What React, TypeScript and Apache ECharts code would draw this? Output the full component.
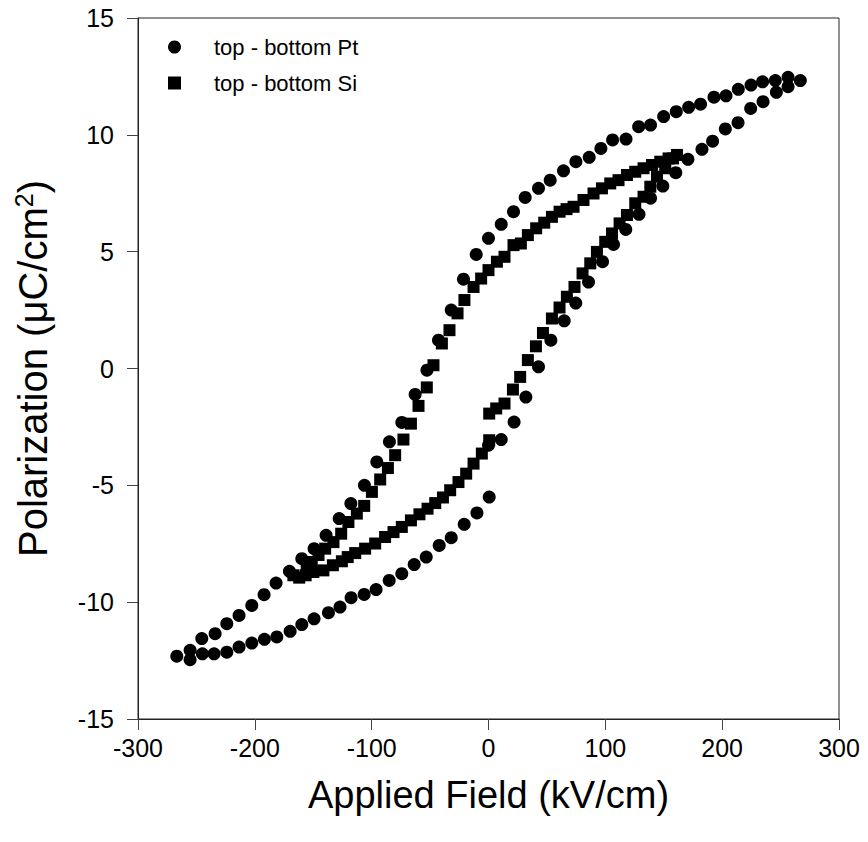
import React, { useEffect, useRef } from "react";
import * as echarts from "echarts";

// Pt electrodes (circles)
const ptField = [
  0.6, -9.9, -20.8, -31.9, -42.2, -53.3, -63.6, -74.2, -85.0, -96.2,
  -106.4, -117.6, -127.1, -137.0, -149.3, -159.8, -169.8, -181.2, -191.8, -202.6,
  -213.5, -224.0, -234.9, -244.9, -255.4, -266.8,
  -255.4, -245.4, -234.0, -224.0, -213.5, -202.6, -192.1, -181.8, -170.4, -159.8,
  -149.3, -139.0, -127.8, -117.8, -106.2, -95.6, -84.8, -74.2, -62.8, -52.7,
  -42.8, -31.9, -21.4, -10.5, 0, 10.9, 21.4, 31.4, 42.8, 52.8,
  64.2, 74.8, 86.2, 96.2, 106.2, 117.7, 128.5, 138.7, 149.9, 160.7,
  171.3, 181.5, 193.0, 203.3, 213.8, 224.7, 234.6, 245.5, 256.4, 266.9,
  256.4, 246.4, 235.0, 224.4, 213.6, 202.7, 191.8, 182.7, 170.7, 160.3,
  149.2, 138.7, 128.8, 117.5, 107.0, 97.6, 85.6, 74.7, 64.8, 53.4,
  42.8, 32.0, 21.9, 10.9, 0,
];
const ptPolarization = [
  -5.5, -6.18, -6.67, -7.24, -7.57, -8.07, -8.39, -8.78, -9.07, -9.46,
  -9.67, -9.81, -10.21, -10.45, -10.71, -10.96, -11.25, -11.49, -11.59, -11.75,
  -11.92, -12.14, -12.21, -12.21, -12.46, -12.31,
  -12.06, -11.56, -11.35, -10.92, -10.57, -10.14, -9.68, -9.18, -8.68, -8.14,
  -7.71, -7.14, -6.42, -5.78, -5.0, -4.0, -3.14, -2.31, -1.11, -0.07,
  1.21, 2.5, 3.82, 4.88, 5.57, 6.17, 6.71, 7.32, 7.71, 8.06,
  8.46, 8.85, 9.04, 9.42, 9.78, 9.82, 10.35, 10.42, 10.78, 10.99,
  11.18, 11.31, 11.61, 11.67, 11.95, 12.13, 12.27, 12.32, 12.46, 12.32,
  12.06, 11.82, 11.42, 11.13, 10.52, 10.25, 9.73, 9.38, 8.95, 8.38,
  7.81, 7.29, 6.6, 5.95, 5.31, 4.57, 3.7, 2.8, 2.04, 1.21,
  0.07, -1.22, -2.29, -3.04, -3.28,
];

// Si electrodes (squares)
const siField = [
  -162, -155.6, -151.3, -145.5, -139.8, -132.7, -126.1, -119.9, -112.7, -106.4,
  -99.8, -92.7, -86.1, -79.9, -72.8, -66.4, -59.9, -52.8, -47.1, -39.9,
  -33.4, -26.5, -20.6, -12.8, -6.3, 0, 7.2, 13.7, 21.4, 27.7,
  33.7, 40.8, 47.7, 54.3, 60.8, 66.8, 72.8, 81.3, 89.9, 97.1,
  104.2, 111.3, 118.5, 125.6, 132.7, 139.9, 147.0, 154.1, 161.3,
  157.9, 151.3, 144.2, 138.5, 132.7, 125.6, 118.5, 112.2, 105.7, 99.9,
  92.8, 87.1, 80.5, 73.6, 67.1, 60.8, 54.3, 46.6, 40.6, 33.7,
  27.1, 20.9, 13.7, 6.6, 0.6,
  0.6, -5.7, -12.8, -19.1, -25.7, -32.8, -39.0, -45.6, -52.2, -59.1,
  -66.4, -74.2, -81.3, -88.5, -97.0, -105.6, -114.1, -120.5, -125.5, -133.2,
  -141.3, -149.9, -156.5, -167,
];
const siPolarization = [
  -8.95, -8.57, -8.28, -7.98, -7.71, -7.43, -7.07, -6.57, -6.21, -5.88,
  -5.28, -4.75, -4.26, -3.71, -3.04, -2.36, -1.6, -0.81, 0.14, 1.07,
  1.64, 2.36, 2.93, 3.49, 3.85, 4.21, 4.57, 4.78, 5.28, 5.35,
  5.71, 6.0, 6.24, 6.49, 6.71, 6.82, 6.92, 7.21, 7.49, 7.71,
  7.92, 8.06, 8.28, 8.42, 8.57, 8.71, 8.85, 8.99, 9.14,
  8.99, 8.57, 8.21, 7.78, 7.35, 7.07, 6.57, 6.21, 5.78, 5.42,
  4.99, 4.5, 4.07, 3.49, 3.07, 2.61, 2.14, 1.52, 0.95, 0.36,
  -0.36, -0.9, -1.5, -1.71, -1.93,
  -3.07, -3.64, -4.07, -4.5, -4.86, -5.21, -5.52, -5.76, -6.0, -6.24,
  -6.5, -6.78, -7.0, -7.21, -7.49, -7.71, -7.9, -8.07, -8.25, -8.42,
  -8.64, -8.71, -8.85, -8.85,
];

const seriesNames = ["top - bottom Pt", "top - bottom Si"];
const xTitle = "Applied Field (kV/cm)";
const yTitle = "Polarization (μC/cm{sup|2})";

const FONT = "'Liberation Sans', Arial, sans-serif";

export default function App() {
  const ref = useRef<HTMLDivElement>(null);
  useEffect(() => {
    if (!ref.current) return;
    const chart = echarts.init(ref.current, undefined, { renderer: "svg" });
    const ptData = ptField.map((x, i) => [x, ptPolarization[i]]);
    const siData = siField.map((x, i) => [x, siPolarization[i]]);
    chart.setOption({
      animation: false,
      backgroundColor: "#fff",
      textStyle: { fontFamily: FONT },
      grid: {
        left: 138,
        right: 29,
        top: 18,
        bottom: 123,
        show: true,
        borderColor: "#222",
        borderWidth: 1,
        backgroundColor: "transparent",
      },
      legend: {
        left: 163,
        top: 31,
        orient: "vertical",
        itemWidth: 13,
        itemHeight: 13,
        itemGap: 14,
        itemStyle: { opacity: 1 },
        textStyle: {
          fontFamily: FONT,
          fontSize: 22,
          color: "#000",
          padding: [0, 0, 0, 28],
        },
        data: [
          { name: seriesNames[0], icon: "circle" },
          { name: seriesNames[1], icon: "rect" },
        ],
      },
      xAxis: {
        type: "value",
        min: -300,
        max: 300,
        interval: 100,
        name: xTitle,
        nameLocation: "middle",
        nameGap: 57,
        nameTextStyle: { fontFamily: FONT, fontSize: 38, color: "#000" },
        axisLine: { show: true, onZero: false, lineStyle: { color: "#222", width: 1 } },
        axisTick: { show: true, inside: false, length: 11, lineStyle: { color: "#444" } },
        axisLabel: { fontFamily: FONT, fontSize: 25, color: "#000", margin: 16 },
        splitLine: { show: false },
      },
      yAxis: {
        type: "value",
        min: -15,
        max: 15,
        interval: 5,
        name: yTitle,
        nameLocation: "middle",
        nameGap: 84,
        nameRotate: 90,
        nameTextStyle: {
          fontFamily: FONT,
          fontSize: 40,
          color: "#000",
          rich: {
            sup: { fontFamily: FONT, fontSize: 25, color: "#000", verticalAlign: "bottom", padding: [0, 0, 18, 0] },
          },
        },
        axisLine: { show: true, onZero: false, lineStyle: { color: "#222", width: 1 } },
        axisTick: { show: true, inside: false, length: 11, lineStyle: { color: "#444" } },
        axisLabel: { fontFamily: FONT, fontSize: 25, color: "#000", margin: 24 },
        splitLine: { show: false },
      },
      series: [
        {
          name: seriesNames[0],
          type: "scatter",
          symbol: "circle",
          symbolSize: 13,
          itemStyle: { color: "#000", opacity: 1 },
          data: ptData,
        },
        {
          name: seriesNames[1],
          type: "scatter",
          symbol: "rect",
          symbolSize: 12,
          itemStyle: { color: "#000", opacity: 1 },
          data: siData,
        },
      ],
    });
    return () => chart.dispose();
  }, []);
  return (
    <div
      ref={ref}
      style={{ position: "fixed", left: 0, top: 0, width: 868, height: 842, background: "#fff" }}
    />
  );
}
